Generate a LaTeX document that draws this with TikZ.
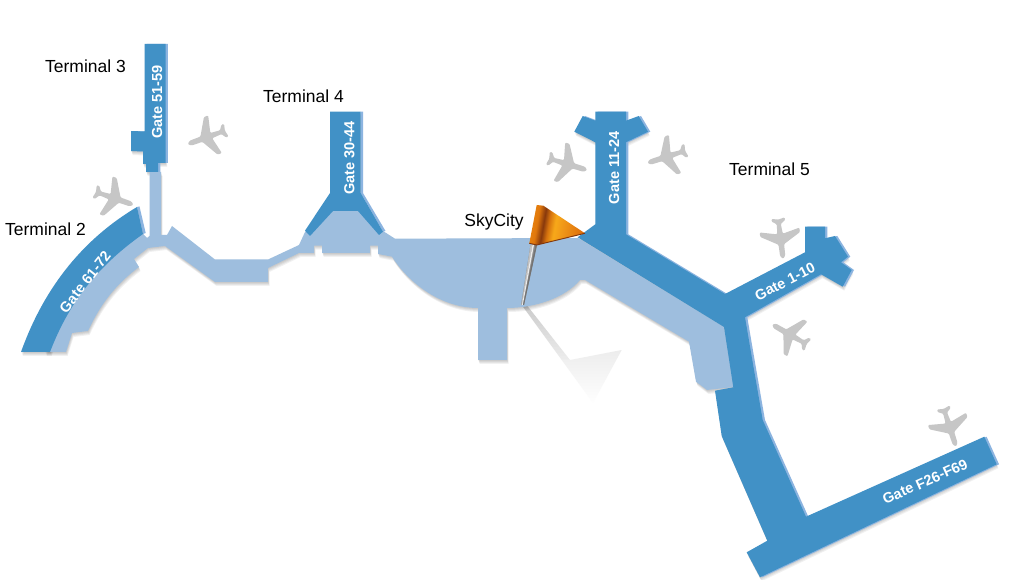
\documentclass[tikz,border=0pt]{standalone}
\usepackage{fontspec}
\setmainfont{Liberation Sans}
\definecolor{darkblue}{RGB}{65,145,198}
\definecolor{lightblue}{RGB}{158,190,222}
\definecolor{sliverblue}{RGB}{140,180,224}
\definecolor{planegrey}{RGB}{198,198,198}
\definecolor{flagbrown}{RGB}{130,55,12}
\pgfdeclarehorizontalshading{flagshade}{100bp}{
  rgb(0bp)=(.91,.51,.055);
  rgb(25bp)=(.91,.51,.055);
  rgb(31bp)=(.88,.47,.047);
  rgb(37bp)=(.53,.22,.047);
  rgb(42bp)=(.84,.45,.055);
  rgb(48bp)=(.97,.66,.10);
  rgb(56bp)=(.94,.59,.094);
  rgb(75bp)=(.87,.43,.04);
  rgb(100bp)=(.87,.43,.04)}
% building outlines, in reference pixels
\def\lightpath{(50,352) -- (66,352) -- (72,333) -- (88,331)
  .. controls (100,305) and (115,285) .. (139,267) -- (134,259) -- (148,248) -- (165,246)
  -- (215,282) -- (268,282) -- (268,268) -- (299,253) -- (314,253) -- (314,245.7) -- (322,245.7)
  -- (322,253) -- (370,253) -- (370,245.7) -- (378,245.7) -- (378,254) -- (392,256.7)
  .. controls (408,282) and (440,308) .. (478,308) -- (478,360) -- (507,360) -- (507,308)
  .. controls (535,308) and (565,298) .. (580,280) -- (585,280) -- (689,341.7) -- (696,381.7)
  -- (707,390) -- (734,387) -- (724,327) -- (578,238) -- (395,238.7) -- (383,231) -- (358,208)
  -- (333,208) -- (305,232)
  -- (299,245) -- (268,259.5) -- (215,259.5) -- (172,226) -- (167,235) -- (161,235) -- (161,172)
  -- (149.5,172) -- (149.5,236) -- (147,238) -- (143,234)
  .. controls (90,262) and (62,300) .. (45,352) -- cycle}
\def\gateTwo{(21,352) -- (50,352) .. controls (68,305) and (95,268) .. (143,234) -- (137,207)
  .. controls (85,238) and (45,285) .. (21,352) -- cycle}
\def\gateThree{(144.5,44) -- (165.5,44) -- (165.5,163) -- (158,163) -- (158,172) -- (146,172)
  -- (146,164) -- (143,164) -- (143,151.5) -- (131,151) -- (131,131) -- (144.5,131.5) -- cycle}
\def\gateFour{(330,111.7) -- (360.7,111.7) -- (360.7,193) -- (383,231.7) -- (379,235) -- (358,211)
  -- (333,211) -- (310,236) -- (305,230.7) -- (330,193) -- cycle}
\def\gateFive{(595.3,111.7) -- (626,111.7) -- (626,120.7) -- (638.7,116) -- (648,131.7) -- (626,142.3)
  -- (626,234.3) -- (725,294) -- (805,252.3) -- (805,226.7) -- (825,226.7) -- (825,238.3) -- (835,236)
  -- (848,256.7) -- (841,262.3) -- (851.7,270) -- (842.7,286.7) -- (821,274.3) -- (745,317.3)
  -- (754,370) -- (762.7,420) -- (806,516.7) -- (984.3,436.7) -- (996.7,464.3) -- (760,577.3)
  -- (746.7,552.3) -- (767.3,540.7) -- (721.7,436) -- (715,390.7) -- (733.3,387.3) -- (724,327)
  -- (577.7,237.3) -- (595.3,224.3) -- (595.3,142.3) -- (574.3,131.7) -- (582.7,116) -- (595.3,120.7) -- cycle}
\newcommand{\softshadow}[1]{%
  \foreach \sx/\sy in {0.4/1,0.8/2,1.2/3,1.6/4}{%
    \fill[black,opacity=.055,shift={(\sx,\sy)}] #1;}}
\tikzset{
  termlabel/.style={inner sep=0pt,font=\fontsize{13.1}{15}\selectfont,text=black},
  gatelabel/.style={inner sep=0pt,font=\fontsize{10.9}{12}\bfseries\selectfont,text=white},
  plane/.pic={
    \fill[planegrey,rounded corners=.8] (0,-21) -- (2.6,-18) -- (2.8,-6.5) -- (20,3.5) -- (20,8) -- (2.8,4)
      -- (2,14) -- (7,17.5) -- (6.5,20) -- (0,18.5)
      -- (-6.5,20) -- (-7,17.5) -- (-2,14) -- (-2.8,4) -- (-20,8) -- (-20,3.5) -- (-2.8,-6.5) -- (-2.6,-18) -- cycle;
  }
}
\begin{document}
\begin{tikzpicture}[x=0.75pt,y=-0.75pt]
\useasboundingbox (0,0) rectangle (1024,580);
\fill[white] (0,0) rectangle (1024,580);
% flag shadow on the ground, in thin solid bands
\begin{scope}
  \clip (521.7,305) -- (526.7,305) -- (570,360) -- (561.7,360) -- cycle;
  \foreach \yy in {305,308,...,360}{
    \pgfmathsetmacro{\shadepct}{20-13*(\yy-305)/55}
    \fill[black!\shadepct] (515,\yy) rectangle (575,\yy+3.5);
  }
\end{scope}
\begin{scope}
  \clip (561.7,360) -- (570,360) -- (621.7,350) -- (593,403) -- cycle;
  \foreach \yy in {350,353,...,403}{
    \pgfmathsetmacro{\shadepct}{max(0,7-7*(\yy-350)/53)}
    \fill[black!\shadepct] (555,\yy) rectangle (630,\yy+3.5);
  }
\end{scope}
% buildings: soft shadows first, then slivers and fills
\softshadow{\lightpath}
\softshadow{\gateTwo}
\softshadow{\gateThree}
\softshadow{\gateFour}
\softshadow{\gateFive}
\fill[sliverblue,shift={(2.3,0)}] \gateThree;
\fill[sliverblue,shift={(2.3,0)}] \gateFive;
\fill[lightblue] \lightpath;
\fill[sliverblue] (137,207) -- (139.5,206.5) -- (145.7,233) -- (143,234) -- cycle;
\fill[sliverblue] (360.7,111.7) -- (363,111.7) -- (363,193) -- (385.5,231) -- (383,231.7) -- (360.7,193) -- cycle;
\fill[darkblue] \gateTwo;
\fill[darkblue] \gateThree;
\fill[darkblue] \gateFour;
\fill[darkblue] \gateFive;
% aeroplanes
\pic at (207.5,137) [rotate=110] {plane};
\pic at (113.5,198) [rotate=-109] {plane};
\pic at (567,164) [rotate=-107] {plane};
\pic at (667.5,156.5) [rotate=108] {plane};
\pic at (780.5,238) [rotate=187] {plane};
\pic at (790.5,335) [rotate=60] {plane};
\pic at (949.5,426.5) [rotate=198] {plane};
% terminal names
\node[termlabel] (t3) at (85.5,66) {Terminal 3};
\node[termlabel] (t4) at (303.5,96) {Terminal 4};
\node[termlabel] (t2) at (45.5,229) {Terminal 2};
\node[termlabel] (t5) at (769.5,169) {Terminal 5};
\node[termlabel] (sky) at (494,222) {SkyCity};
% gate names
\node[gatelabel,rotate=90] (g5159) at (157,102) {Gate 51-59};
\node[gatelabel,rotate=90] (g3044) at (349.3,158) {Gate 30-44};
\node[gatelabel,rotate=90] (g1124) at (614,167.7) {Gate 11-24};
\node[gatelabel,rotate=52] (g6172) at (85,282) {Gate 61-72};
\node[gatelabel,rotate=27] (g110) at (785,281.7) {Gate 1-10};
\node[gatelabel,rotate=24] (gf) at (925,481.7) {Gate F26-F69};
% flag pin
\fill[black!45] (521,305) -- (524,305) -- (537,245) -- (530.5,245) -- cycle;
\fill[black!25] (521.3,305) -- (522.3,305) -- (532.5,245) -- (530.5,245) -- cycle;
\fill[black!8] (522,305) -- (522.8,305) -- (534,245) -- (532.5,245) -- cycle;
\fill[black!55] (523,305) -- (524,305) -- (537,245) -- (535.5,245) -- cycle;
% flag
\path[shading=flagshade,shading angle=-10] (536.7,205) -- (543.3,205.7) -- (585,233.3) -- (536.7,245) -- (529.3,243.3) -- cycle;
\draw[flagbrown,line width=.7pt] (529.3,243.3) -- (536.7,245) -- (585,233.3);
\end{tikzpicture}
\end{document}
